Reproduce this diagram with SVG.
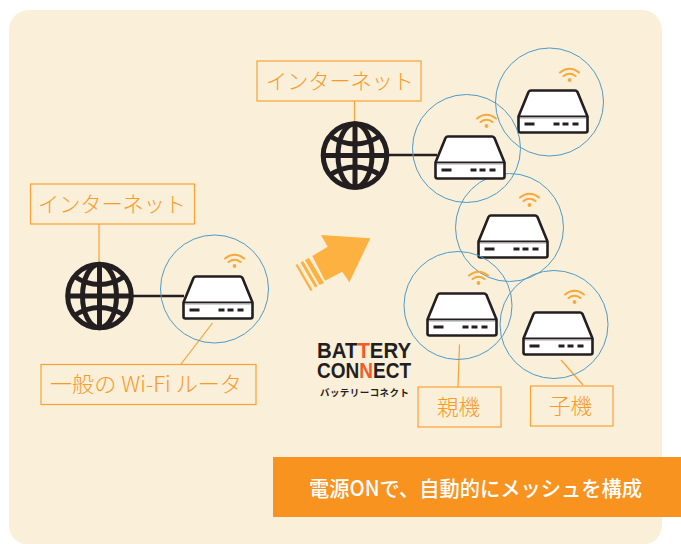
<svg xmlns="http://www.w3.org/2000/svg" xmlns:xlink="http://www.w3.org/1999/xlink" width="681" height="544" viewBox="0 0 681 544">
<style>
.lab{font-family:"Noto Sans CJK JP","Noto Sans",sans-serif;font-size:21.5px;font-weight:300;fill:#f79a2a}
.box{fill:none;stroke:#f8a136;stroke-width:1.2}
.lead{fill:none;stroke:#f8a136;stroke-width:1.2}
.cov{fill:none;stroke:#4f9bc9;stroke-width:1}
.wire{fill:none;stroke:#231f20;stroke-width:2.4}
.logo{font-family:"Liberation Sans",Arial,sans-serif;font-weight:700;font-size:22px;fill:#231f20}
</style>
<defs>
<g id="router">
<path d="M1 27 L11 2.5 Q11.8 1 13.5 1 L57.500 1 Q59 1 60 2.500 L70 27 V41 Q70 43 68 43 H3 Q1 43 1 41 Z" fill="#fff" stroke="#231f20" stroke-width="2.600" stroke-linejoin="round"/>
<path d="M1.500 27 H69.500" stroke="#231f20" stroke-width="2"/>
<rect x="2.500" y="28" width="66" height="1.200" fill="#bbb"/>
<rect x="7" y="33" width="10" height="3" fill="#231f20"/>
<rect x="36" y="33" width="6" height="3" fill="#231f20"/>
<rect x="45" y="33" width="6" height="3" fill="#231f20"/>
<rect x="55" y="33" width="6" height="3" fill="#231f20"/>
<g fill="none" stroke="#f9a93c" stroke-width="2.100" stroke-linecap="round">
<path d="M42.500 -17 Q52 -24.500 61.500 -17"/>
<path d="M46 -13.500 Q52 -18 58 -13.500"/>
</g>
<circle cx="52" cy="-9.500" r="1.900" fill="#f9a93c"/>
</g>
<g id="globe" fill="none" stroke="#231f20" stroke-width="5">
<circle r="31.800"/>
<ellipse rx="17" ry="31.800"/>
<path d="M0 -32 V32 M-32 0 H32"/>
<path d="M-26 -20 Q0 -3 26 -20"/>
<path d="M-26 20 Q0 3 26 20"/>
</g>
</defs>
<rect id="panel" x="9" y="10" width="653" height="535" rx="20" fill="#faefd8"/>
<g id="connectors">
<path class="lead" d="M99 224 V262"/>
<path class="lead" d="M354.500 101 V122"/>
<path class="lead" d="M212.500 323 L181 364"/>
<path class="lead" d="M459.500 344.500 L458 387"/>
<path class="lead" d="M561 360 L583 385"/>
<path class="wire" d="M133 296 H184"/>
<path class="wire" d="M389 155 H437"/>
</g>
<g id="router-left">
<circle class="cov" cx="214.500" cy="289" r="54"/>
<use xlink:href="#router" href="#router" x="182.500" y="275.500"/>
</g>
<g id="router-mid">
<circle class="cov" cx="509.500" cy="227.500" r="54"/>
<use xlink:href="#router" href="#router" x="477.500" y="214.500"/>
</g>
<g id="router-top">
<circle class="cov" cx="549.500" cy="102" r="54"/>
<use xlink:href="#router" href="#router" x="517.500" y="89.500"/>
</g>
<g id="router-center">
<circle class="cov" cx="466.500" cy="148.500" r="54"/>
<use xlink:href="#router" href="#router" x="434.500" y="135.500"/>
</g>
<g id="router-parent">
<circle class="cov" cx="458" cy="305.500" r="54"/>
<use xlink:href="#router" href="#router" x="426.500" y="292.500"/>
</g>
<g id="router-child">
<circle class="cov" cx="554" cy="324.500" r="54"/>
<use xlink:href="#router" href="#router" x="522.500" y="311.500"/>
</g>
<g id="globe-left"><use xlink:href="#globe" href="#globe" x="99.500" y="296"/></g>
<g id="globe-right"><use xlink:href="#globe" href="#globe" x="355" y="155.500"/></g>
<g id="label-internet-left">
<rect class="box" x="30.500" y="184" width="164" height="40"/>
<text class="lab" x="38" y="212" textLength="148" lengthAdjust="spacingAndGlyphs">インターネット</text>
</g>
<g id="label-internet-right">
<rect class="box" x="257" y="61" width="164" height="40"/>
<text class="lab" x="266" y="89" textLength="148" lengthAdjust="spacingAndGlyphs">インターネット</text>
</g>
<g id="label-wifi">
<rect class="box" x="41" y="364.500" width="215" height="40"/>
<text class="lab" x="50" y="392" textLength="192" lengthAdjust="spacingAndGlyphs">一般の Wi-Fi ルータ</text>
</g>
<g id="label-parent">
<rect class="box" x="418" y="387" width="83" height="40"/>
<text class="lab" x="437" y="414.500" textLength="43">親機</text>
</g>
<g id="label-child">
<rect class="box" x="530.500" y="386" width="82.500" height="40"/>
<text class="lab" x="549" y="413.500" textLength="43">子機</text>
</g>
<g id="arrow" fill="#fdb141">
<path d="M321 235 L370.300 238.300 L349.300 282.300 L342.300 271.700 L325 280.700 L312.300 256 L327.700 246.700 Z"/>
<path d="M305 260 L309 258 L324 283 L319.500 285 Z"/>
<path d="M300.500 262.500 L303 261 L317.500 286 L315 287.500 Z"/>
<path d="M295.500 265 L297.500 264 L312.500 290 L310.500 291 Z"/>
</g>
<g id="logo">
<text class="logo" x="317" y="358" textLength="94" lengthAdjust="spacingAndGlyphs">BAT<tspan fill="#f15a29">T</tspan>ERY</text>
<text class="logo" x="317" y="378" textLength="94" lengthAdjust="spacingAndGlyphs">CON<tspan fill="#f15a29">N</tspan>ECT</text>
<text x="320" y="396" textLength="89" style="font-family:'Noto Sans CJK JP',sans-serif;font-size:9.500px;font-weight:700;fill:#231f20">バッテリーコネクト</text>
</g>
<g id="banner">
<rect x="273" y="457" width="408" height="60" fill="#f8931f"/>
<text x="309" y="496" textLength="333" lengthAdjust="spacingAndGlyphs" style="font-family:'Noto Sans CJK JP',sans-serif;font-size:21px;font-weight:500;fill:#fff">電源ONで、自動的にメッシュを構成</text>
</g>
</svg>
